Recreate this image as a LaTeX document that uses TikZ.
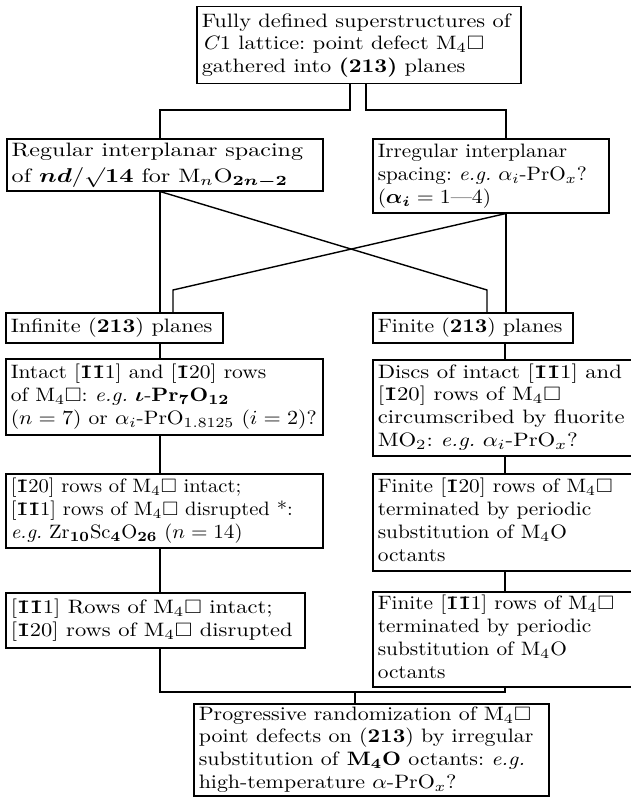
\documentclass[tikz,border=0pt]{standalone}
\usepackage{amsmath,amssymb,bm,graphicx}
\newcommand\ob{{\bfseries\=1}}
\newcommand\wt[2]{\scalebox{#1}[1]{\begin{tabular}{@{}l@{}}#2\end{tabular}}}
\tikzset{
  box/.style={draw, line width=0.75pt, anchor=north west, align=left,
    inner xsep=2.5pt, inner ysep=0pt, font=\fontsize{9.7}{11.4}\selectfont\frenchspacing},
  link/.style={line width=0.7pt},
}
\begin{document}
\begin{tikzpicture}[x=0.5pt,y=-0.5pt]
\useasboundingbox (0,0) rectangle (631,797);
\clip (0,0) rectangle (631,797);
% boxes
\node[box, text width=157pt, minimum height=38.5pt] (top) at (196,6)
  {\wt{1.15}{Fully defined superstructures of\\ \textit{C}1 lattice: point defect M$_4\square$\\ gathered into \textbf{(213)} planes}};
\node[box, text width=153pt, minimum height=26pt] (reg) at (6,138)
  {\wt{1.24}{Regular interplanar spacing\\[1.5pt] of $\bm{nd}/{\surd}\mathbf{14}$ for M$_n$O$_{\bm{2n-2}}$}};
\node[box, text width=113pt, minimum height=37pt] (irr) at (372,138)
  {\wt{1.09}{Irregular interplanar\\ spacing: \textit{e.g.} $\alpha_i$-PrO$_x$?\\ ($\bm{\alpha_i}=1$---$4$)}};
\node[box, text width=103.5pt, minimum height=15pt] (inf) at (5,312)
  {\wt{1.15}{Infinite (\textbf{213}) planes}};
\node[box, text width=95pt, minimum height=15pt] (fin) at (372,312)
  {\wt{1.12}{Finite (\textbf{213}) planes}};
\node[box, text width=153.5pt, minimum height=38pt] (intact) at (5,358)
  {\wt{1.11}{Intact [\ob\ob1] and [\ob20] rows\\ of M$_4\square$: \textit{e.g.} $\bm{\iota}$-\textbf{Pr}$_{\mathbf 7}$\textbf{O}$_{\mathbf{12}}$\\ ($n=7$) or $\alpha_i$-PrO$_{1.8125}$ ($i=2$)?}};
\node[box, text width=131.5pt, minimum height=48pt] (discs) at (372,359)
  {\wt{1.17}{Discs of intact [\ob\ob1] and\\{}[\ob20] rows of M$_4\square$\\ circumscribed by fluorite\\ MO$_2$: \textit{e.g.} $\alpha_i$-PrO$_x$?}};
\node[box, text width=153.5pt, minimum height=37pt] (zrsc) at (5,473)
  {\wt{1.06}{[\ob20] rows of M$_4\square$ intact;\\{}[\ob\ob1] rows of M$_4\square$ disrupted *:\\ \textit{e.g.} Zr$_{\mathbf{10}}$Sc$_{\mathbf 4}$O$_{\mathbf{26}}$ ($n=14$)}};
\node[box, text width=131.5pt, minimum height=48.5pt] (finA) at (372,473)
  {\wt{1.1}{Finite [\ob20] rows of M$_4\square$\\ terminated by periodic\\ substitution of M$_4$O\\ octants}};
\node[box, text width=144.5pt, minimum height=27.5pt] (b111) at (5,592)
  {\wt{1.16}{[\ob\ob1] Rows of M$_4\square$ intact;\\{}[\ob20] rows of M$_4\square$ disrupted}};
\node[box, text width=131.5pt, minimum height=47.5pt] (finB) at (372,591)
  {\wt{1.1}{Finite [\ob\ob1] rows of M$_4\square$\\ terminated by periodic\\ substitution of M$_4$O\\ octants}};
\node[box, text width=172.5pt, minimum height=46pt] (bot) at (193,703)
  {\wt{1.13}{Progressive randomization of M$_4\square$\\ point defects on (\textbf{213}) by irregular\\ substitution of \textbf{M}$_{\mathbf 4}$\textbf{O} octants: \textit{e.g.}\\ high-temperature $\alpha$-PrO$_x$?}};
% connectors
\draw[link] (350,0 |- top.south) |- (160,110) -- (160,0 |- reg.north);
\draw[link] (366,0 |- top.south) |- (506,110) -- (506,0 |- irr.north);
\draw[link] (160,0 |- reg.south) -- (160,0 |- inf.north);
\draw[link] (160,0 |- reg.south) -- (487,290) -- (487,0 |- fin.north);
\draw[link] (506,0 |- irr.south) -- (506,0 |- fin.north);
\draw[link] (506,0 |- irr.south) -- (173,290) -- (173,0 |- inf.north);
\draw[link] (160,0 |- inf.south) -- (160,0 |- intact.north);
\draw[link] (505,0 |- fin.south) -- (505,0 |- discs.north);
\draw[link] (160,0 |- intact.south) -- (160,0 |- zrsc.north);
\draw[link] (505,0 |- discs.south) -- (505,0 |- finA.north);
\draw[link] (160,0 |- zrsc.south) -- (160,0 |- b111.north);
\draw[link] (505,0 |- finA.south) -- (505,0 |- finB.north);
\coordinate (join) at (355,692);
\draw[link] (160,0 |- b111.south) |- (505,0 |- join) -- (505,0 |- finB.south);
\draw[link] (join) -- (355,0 |- bot.north);
\end{tikzpicture}
\end{document}
